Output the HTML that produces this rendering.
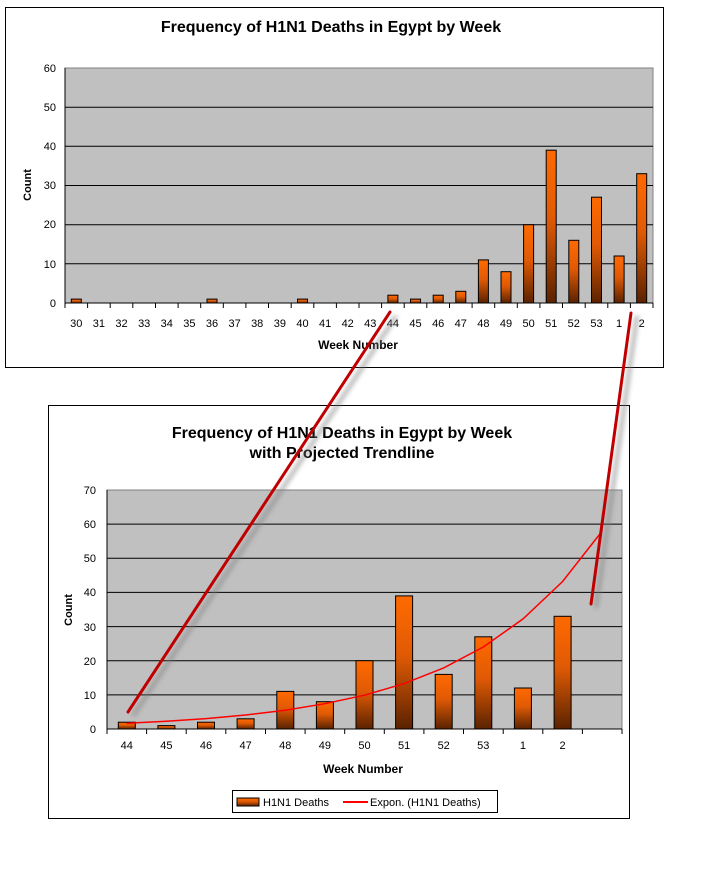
<!DOCTYPE html>
<html><head><meta charset="utf-8"><style>
html,body{margin:0;padding:0;background:#fff;}
svg{display:block;font-family:"Liberation Sans",Arial,sans-serif;}
</style></head><body>
<svg width="717" height="889" viewBox="0 0 717 889" xmlns="http://www.w3.org/2000/svg">
<defs>
<linearGradient id="bg" x1="0" y1="0" x2="0" y2="1">
<stop offset="0" stop-color="#ff6a00"/><stop offset="0.45" stop-color="#e05a05"/><stop offset="1" stop-color="#5a2200"/>
</linearGradient>
<filter id="sh" x="-20%" y="-20%" width="140%" height="140%"><feGaussianBlur stdDeviation="2.5"/></filter>
</defs>
<!-- TOP CHART -->
<rect x="5.5" y="7.5" width="658" height="360" fill="#fff" stroke="#000" stroke-width="1"/>
<text x="331" y="32" font-size="16" font-weight="bold" text-anchor="middle">Frequency of H1N1 Deaths in Egypt by Week</text>
<rect x="65" y="68" width="588" height="235" fill="#c0c0c0" stroke="#808080"/>
<g stroke="#000" stroke-width="1">
<line x1="65" y1="107.2" x2="653" y2="107.2"/><line x1="65" y1="146.3" x2="653" y2="146.3"/><line x1="65" y1="185.5" x2="653" y2="185.5"/><line x1="65" y1="224.7" x2="653" y2="224.7"/><line x1="65" y1="263.8" x2="653" y2="263.8"/>
<line x1="65" y1="68" x2="65" y2="303"/><line x1="65" y1="303" x2="653" y2="303"/>
</g>
<g font-size="11" text-anchor="end">
<text x="56" y="72">60</text><text x="56" y="111">50</text><text x="56" y="150">40</text><text x="56" y="189">30</text><text x="56" y="228">20</text><text x="56" y="268">10</text><text x="56" y="307">0</text>
</g>
<text transform="translate(31,185) rotate(-90)" font-size="11" font-weight="bold" text-anchor="middle">Count</text>
<g fill="url(#bg)" stroke="#000" stroke-width="1">
<rect x="71.3" y="299.1" width="10" height="3.9"/>
<rect x="207" y="299.1" width="10" height="3.9"/>
<rect x="297.5" y="299.1" width="10" height="3.9"/>
<rect x="387.9" y="295.2" width="10" height="7.8"/>
<rect x="410.5" y="299.1" width="10" height="3.9"/>
<rect x="433.2" y="295.2" width="10" height="7.8"/>
<rect x="455.8" y="291.3" width="10" height="11.7"/>
<rect x="478.4" y="259.9" width="10" height="43.1"/>
<rect x="501" y="271.7" width="10" height="31.3"/>
<rect x="523.6" y="224.7" width="10" height="78.3"/>
<rect x="546.2" y="150.2" width="10" height="152.8"/>
<rect x="568.8" y="240.3" width="10" height="62.7"/>
<rect x="591.5" y="197.2" width="10" height="105.8"/>
<rect x="614.1" y="256" width="10" height="47"/>
<rect x="636.7" y="173.7" width="10" height="129.3"/>
</g>
<g stroke="#000">
<line x1="65" y1="303" x2="65" y2="308"/><line x1="87.6" y1="303" x2="87.6" y2="308"/><line x1="110.2" y1="303" x2="110.2" y2="308"/><line x1="132.8" y1="303" x2="132.8" y2="308"/><line x1="155.5" y1="303" x2="155.5" y2="308"/><line x1="178.1" y1="303" x2="178.1" y2="308"/><line x1="200.7" y1="303" x2="200.7" y2="308"/><line x1="223.3" y1="303" x2="223.3" y2="308"/><line x1="245.9" y1="303" x2="245.9" y2="308"/><line x1="268.5" y1="303" x2="268.5" y2="308"/><line x1="291.2" y1="303" x2="291.2" y2="308"/><line x1="313.8" y1="303" x2="313.8" y2="308"/><line x1="336.4" y1="303" x2="336.4" y2="308"/><line x1="359" y1="303" x2="359" y2="308"/><line x1="381.6" y1="303" x2="381.6" y2="308"/><line x1="404.2" y1="303" x2="404.2" y2="308"/><line x1="426.8" y1="303" x2="426.8" y2="308"/><line x1="449.5" y1="303" x2="449.5" y2="308"/><line x1="472.1" y1="303" x2="472.1" y2="308"/><line x1="494.7" y1="303" x2="494.7" y2="308"/><line x1="517.3" y1="303" x2="517.3" y2="308"/><line x1="539.9" y1="303" x2="539.9" y2="308"/><line x1="562.5" y1="303" x2="562.5" y2="308"/><line x1="585.2" y1="303" x2="585.2" y2="308"/><line x1="607.8" y1="303" x2="607.8" y2="308"/><line x1="630.4" y1="303" x2="630.4" y2="308"/><line x1="653" y1="303" x2="653" y2="308"/>
</g>
<g font-size="11" text-anchor="middle">
<text x="76.3" y="327">30</text><text x="98.9" y="327">31</text><text x="121.5" y="327">32</text><text x="144.2" y="327">33</text><text x="166.8" y="327">34</text><text x="189.4" y="327">35</text><text x="212" y="327">36</text><text x="234.6" y="327">37</text><text x="257.2" y="327">38</text><text x="279.9" y="327">39</text><text x="302.5" y="327">40</text><text x="325.1" y="327">41</text><text x="347.7" y="327">42</text><text x="370.3" y="327">43</text><text x="392.9" y="327">44</text><text x="415.5" y="327">45</text><text x="438.2" y="327">46</text><text x="460.8" y="327">47</text><text x="483.4" y="327">48</text><text x="506" y="327">49</text><text x="528.6" y="327">50</text><text x="551.2" y="327">51</text><text x="573.8" y="327">52</text><text x="596.5" y="327">53</text><text x="619.1" y="327">1</text><text x="641.7" y="327">2</text>
</g>
<text x="358" y="349" font-size="12" font-weight="bold" text-anchor="middle">Week Number</text>

<!-- BOTTOM CHART -->
<rect x="48.5" y="405.5" width="581" height="413" fill="#fff" stroke="#000" stroke-width="1"/>
<text x="342" y="438" font-size="16" font-weight="bold" text-anchor="middle">Frequency of H1N1 Deaths in Egypt by Week</text>
<text x="342" y="458" font-size="16" font-weight="bold" text-anchor="middle">with Projected Trendline</text>
<rect x="107" y="490" width="515" height="239" fill="#c0c0c0" stroke="#808080"/>
<g stroke="#000" stroke-width="1">
<line x1="107" y1="524.1" x2="622" y2="524.1"/><line x1="107" y1="558.3" x2="622" y2="558.3"/><line x1="107" y1="592.4" x2="622" y2="592.4"/><line x1="107" y1="626.6" x2="622" y2="626.6"/><line x1="107" y1="660.7" x2="622" y2="660.7"/><line x1="107" y1="694.9" x2="622" y2="694.9"/>
<line x1="107" y1="490" x2="107" y2="729"/><line x1="107" y1="729" x2="622" y2="729"/>
</g>
<g font-size="11" text-anchor="end">
<text x="96" y="494">70</text><text x="96" y="528">60</text><text x="96" y="562">50</text><text x="96" y="596">40</text><text x="96" y="631">30</text><text x="96" y="665">20</text><text x="96" y="699">10</text><text x="96" y="733">0</text>
</g>
<text transform="translate(72,610) rotate(-90)" font-size="11" font-weight="bold" text-anchor="middle">Count</text>
<g fill="url(#bg)" stroke="#000" stroke-width="1">
<rect x="118.3" y="722.2" width="17" height="6.8"/>
<rect x="157.9" y="725.6" width="17" height="3.4"/>
<rect x="197.5" y="722.2" width="17" height="6.8"/>
<rect x="237.1" y="718.8" width="17" height="10.2"/>
<rect x="276.8" y="691.4" width="17" height="37.6"/>
<rect x="316.4" y="701.7" width="17" height="27.3"/>
<rect x="356" y="660.7" width="17" height="68.3"/>
<rect x="395.6" y="595.9" width="17" height="133.1"/>
<rect x="435.2" y="674.4" width="17" height="54.6"/>
<rect x="474.8" y="636.8" width="17" height="92.2"/>
<rect x="514.4" y="688" width="17" height="41"/>
<rect x="554.1" y="616.3" width="17" height="112.7"/>
</g>
<g stroke="#000">
<line x1="107" y1="729" x2="107" y2="734"/><line x1="146.6" y1="729" x2="146.6" y2="734"/><line x1="186.2" y1="729" x2="186.2" y2="734"/><line x1="225.8" y1="729" x2="225.8" y2="734"/><line x1="265.5" y1="729" x2="265.5" y2="734"/><line x1="305.1" y1="729" x2="305.1" y2="734"/><line x1="344.7" y1="729" x2="344.7" y2="734"/><line x1="384.3" y1="729" x2="384.3" y2="734"/><line x1="423.9" y1="729" x2="423.9" y2="734"/><line x1="463.5" y1="729" x2="463.5" y2="734"/><line x1="503.2" y1="729" x2="503.2" y2="734"/><line x1="542.8" y1="729" x2="542.8" y2="734"/><line x1="582.4" y1="729" x2="582.4" y2="734"/><line x1="622" y1="729" x2="622" y2="734"/>
</g>
<polyline fill="none" stroke="#ff0000" stroke-width="1.5" points="126.8,723.2 166.4,721.2 206,718.6 245.6,715 285.3,710.2 324.9,703.7 364.5,695.2 404.1,683.6 443.7,667.9 483.3,647 522.9,619 562.6,581.5 602.2,531"/>
<g font-size="11" text-anchor="middle">
<text x="126.8" y="749">44</text><text x="166.4" y="749">45</text><text x="206" y="749">46</text><text x="245.6" y="749">47</text><text x="285.3" y="749">48</text><text x="324.9" y="749">49</text><text x="364.5" y="749">50</text><text x="404.1" y="749">51</text><text x="443.7" y="749">52</text><text x="483.3" y="749">53</text><text x="522.9" y="749">1</text><text x="562.6" y="749">2</text>
</g>
<text x="363" y="773" font-size="12" font-weight="bold" text-anchor="middle">Week Number</text>
<rect x="232.5" y="790.5" width="265" height="22" fill="#fff" stroke="#000"/>
<rect x="237" y="798" width="22" height="8" fill="url(#bg)" stroke="#000"/>
<text x="263" y="806" font-size="11">H1N1 Deaths</text>
<line x1="343" y1="802" x2="368" y2="802" stroke="#ff0000" stroke-width="2"/>
<text x="370" y="806" font-size="11">Expon. (H1N1 Deaths)</text>

<!-- ANNOTATION LINES -->
<g stroke="#808080" stroke-width="4" opacity="0.6" filter="url(#sh)">
<line x1="133" y1="716" x2="396" y2="316"/>
<line x1="596" y1="608" x2="637" y2="316"/>
</g>
<g stroke="#c00000" stroke-width="3" stroke-linecap="round">
<line x1="128" y1="712" x2="390" y2="312"/>
<line x1="591" y1="604" x2="631" y2="313"/>
</g>
</svg>
</body></html>
